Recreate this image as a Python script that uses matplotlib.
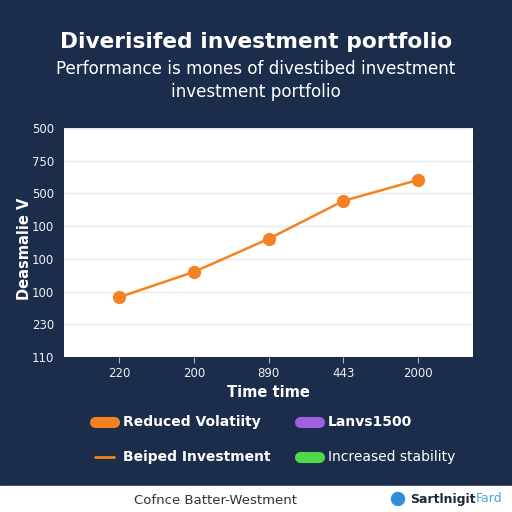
import matplotlib.pyplot as plt
from matplotlib.lines import Line2D
from matplotlib.patches import Rectangle, Circle

# === DATA ===
time_labels = ["220", "200", "890", "443", "2000"]
values = [1.83, 2.6, 3.61, 4.77, 5.41]
y_tick_labels = ["110", "230", "100", "100", "100", "500", "750", "500"]
legend_labels = ["Reduced Volatiity", "Lanvs1500", "Beiped Investment", "Increased stability"]
legend_colors = ["#f58220", "#a15ee0", "#f58220", "#4fd94a"]

# === STYLE ===
bg = "#1b2d4b"
orange = "#f58220"
W = H = 512

fig = plt.figure(figsize=(5.12, 5.12), dpi=100, facecolor=bg)

def fx(px):
    return px / W

def fy(py):
    return 1 - py / H

# --- plot area ---
ax = fig.add_axes([fx(64), fy(357), fx(473 - 64), (357 - 128) / H])
ax.set_facecolor("white")
x = list(range(len(time_labels)))
ax.plot(x, values, color=orange, lw=1.8, marker="o", markersize=8.5, zorder=3)
ax.set_xlim(-0.74, 4.74)
ax.set_ylim(0, 7)
ax.set_xticks(x)
ax.set_xticklabels(time_labels)
ax.set_yticks(range(len(y_tick_labels)))
ax.set_yticklabels(y_tick_labels)
ax.grid(axis="y", color="#e8e8e8", lw=1)
ax.set_axisbelow(True)
for s in ax.spines.values():
    s.set_visible(False)
ax.tick_params(axis="y", length=0, colors="#eef0f4", labelsize=8.5, pad=7)
ax.tick_params(axis="x", length=4, color="#aab2c0", colors="#eef0f4", labelsize=8.5, pad=3)
ax.set_xlabel("Time time", color="white", fontsize=10.5, fontweight="bold", labelpad=4)
fig.text(fx(25), fy(249), "Deasmalie V", rotation=90, color="white", fontsize=10.5,
         fontweight="bold", ha="center", va="center")

# --- titles ---
fig.text(0.5, fy(42), "Diverisifed investment portfolio", color="white", fontsize=15.7,
         fontweight="bold", ha="center", va="center")
fig.text(0.5, fy(69), "Performance is mones of divestibed investment", color="white",
         fontsize=12.1, ha="center", va="center")
fig.text(0.5, fy(92), "investment portfolio", color="white", fontsize=12.1,
         ha="center", va="center")

# --- legend ---
positions = [(92, 422), (297, 422), (92, 457), (297, 457)]
weights = ["bold", "bold", "bold", "normal"]
for i, (lab, col) in enumerate(zip(legend_labels, legend_colors)):
    px, py = positions[i]
    lw = 2 if i == 2 else 8
    fig.add_artist(Line2D([fx(px + 3), fx(px + 22)], [fy(py), fy(py)], color=col, lw=lw,
                          solid_capstyle="round", transform=fig.transFigure))
    fig.text(fx(px + 31), fy(py), lab, color="white", fontsize=10, fontweight=weights[i],
             ha="left", va="center")

# --- footer ---
fig.add_artist(Rectangle((0, 0), 1, fy(486), color="white", transform=fig.transFigure))
fig.text(fx(216), fy(500), "Cofnce Batter-Westment", color="#333333", fontsize=9.5,
         ha="center", va="center")
fig.add_artist(Circle((fx(398), fy(499)), fx(6.5), color="#2f8fd8", transform=fig.transFigure))
t = fig.text(fx(410), fy(499), "Sartlnigit", color="#1d2a3d", fontsize=9, fontweight="bold",
             ha="left", va="center")
fig.canvas.draw()
bb = t.get_window_extent()
fig.text(bb.x1 / W, fy(499), "Fard", color="#4aa3df", fontsize=9, ha="left", va="center")

fig.savefig("out.png", dpi=100, facecolor=bg)
